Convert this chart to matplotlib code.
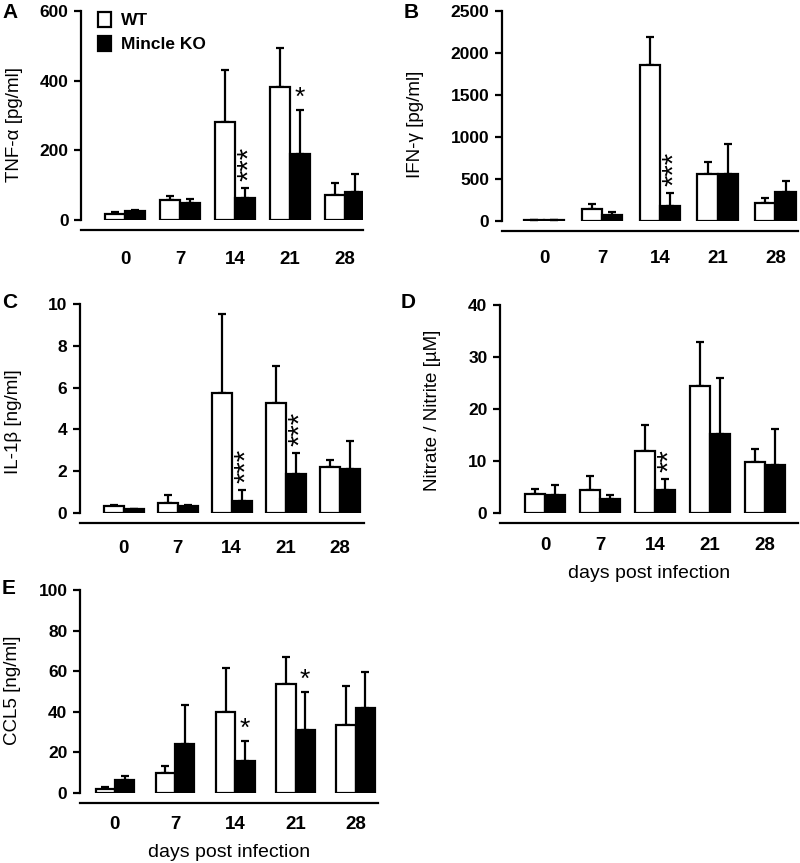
import matplotlib
matplotlib.use('Agg')
import matplotlib.pyplot as plt
from matplotlib.patches import Patch
import numpy as np

plt.rcParams['font.family'] = ['Liberation Sans', 'DejaVu Sans']

days = ['0', '7', '14', '21', '28']

# A - TNF-alpha [pg/ml]
tnf_wt = [18, 57, 282, 381, 72]
tnf_wt_err = [4, 13, 148, 114, 35]
tnf_ko = [26, 48, 62, 190, 79]
tnf_ko_err = [3, 12, 29, 126, 52]
tnf_stars = ['', '', '***', '*', '']

# B - IFN-gamma [pg/ml]
ifn_wt = [12, 140, 1857, 559, 220]
ifn_wt_err = [0, 60, 339, 144, 52]
ifn_ko = [12, 72, 176, 555, 340]
ifn_ko_err = [0, 32, 155, 356, 131]
ifn_stars = ['', '', '***', '', '']

# C - IL-1beta [ng/ml]
il1_wt = [0.32, 0.48, 5.75, 5.27, 2.2]
il1_wt_err = [0.08, 0.37, 3.75, 1.76, 0.32]
il1_ko = [0.18, 0.32, 0.58, 1.88, 2.12]
il1_ko_err = [0.03, 0.05, 0.54, 1.0, 1.31]
il1_stars = ['', '', '***', '***', '']

# D - Nitrate / Nitrite [uM]
no_wt = [3.7, 4.5, 11.9, 24.5, 9.8]
no_wt_err = [0.9, 2.6, 5.1, 8.4, 2.5]
no_ko = [3.5, 2.6, 4.5, 15.2, 9.2]
no_ko_err = [1.9, 0.8, 2.0, 10.7, 6.9]
no_stars = ['', '', '**', '', '']

# E - CCL5 [ng/ml]
ccl_wt = [1.8, 9.8, 39.7, 53.8, 33.3]
ccl_wt_err = [1.0, 3.3, 21.8, 13.4, 19.5]
ccl_ko = [6.6, 24.3, 15.6, 31.1, 42.0]
ccl_ko_err = [1.6, 19.1, 10.1, 18.9, 17.8]
ccl_stars = ['', '', '*', '*', '']

W, H = 800, 863
fig = plt.figure(figsize=(W / 100, H / 100), dpi=100)


def px_axes(left, right, zero, top):
    ax = fig.add_axes([left / W, (H - zero) / H, (right - left) / W, (zero - top) / H])
    ax.px_box = (left, right, zero, top)
    return ax


def panel(ax, wt, wt_err, ko, ko_err, stars, ymax, step, ylabel, xlim, w,
          letter, letter_xy, label_xy, xlabel=None, pad=14):
    # spine has to be moved before the ticks are styled (moving it resets the ticks)
    ax.spines['top'].set_visible(False)
    ax.spines['right'].set_visible(False)
    ax.spines['left'].set_linewidth(1.6)
    ax.spines['bottom'].set_linewidth(1.6)
    ax.spines['bottom'].set_position(('outward', 7))

    x = np.arange(len(days))
    lw = 1.6
    ax.bar(x - w / 2, wt, w, color='white', edgecolor='black', linewidth=lw, zorder=3)
    ax.bar(x + w / 2, ko, w, color='black', edgecolor='black', linewidth=lw, zorder=3)
    ax.errorbar(x - w / 2, wt, yerr=[np.zeros(len(wt)), wt_err], fmt='none',
                ecolor='black', elinewidth=lw, capsize=3, capthick=lw, zorder=2)
    ax.errorbar(x + w / 2, ko, yerr=[np.zeros(len(ko)), ko_err], fmt='none',
                ecolor='black', elinewidth=lw, capsize=3, capthick=lw, zorder=2)
    for i, s in enumerate(stars):
        if s:
            top = ko[i] + ko_err[i]
            if len(s) > 1:
                ax.annotate(s, (x[i] + w / 2, top), xytext=(3, 5), textcoords='offset points',
                            rotation=90, ha='center', va='bottom', fontsize=21)
            else:
                ax.annotate(s, (x[i] + w / 2, top), xytext=(0, 0), textcoords='offset points',
                            ha='center', va='bottom', fontsize=19)

    ax.set_xlim(*xlim)
    ax.set_ylim(0, ymax)
    yt = np.arange(0, ymax + step / 2, step)
    ax.set_yticks(yt, labels=['%g' % v for v in yt], fontweight='bold', fontsize=12.5)
    ax.set_xticks(x, labels=days, fontweight='bold', fontsize=13.5)
    ax.tick_params(axis='y', length=5, width=1.6, pad=4)
    ax.tick_params(axis='x', length=0, pad=pad)
    ax.set_ylabel(ylabel, fontsize=13.5)
    left, right, zero, top = ax.px_box
    ax.yaxis.set_label_coords((label_xy[0] - left) / (right - left),
                              (zero - label_xy[1]) / (zero - top))
    if xlabel:
        ax.set_xlabel(xlabel, fontsize=14, labelpad=8)
    fig.text(letter_xy[0] / W, 1 - letter_xy[1] / H, letter, fontsize=15,
             fontweight='bold', ha='left', va='center')


axA = px_axes(81, 363, 220, 11)
panel(axA, tnf_wt, tnf_wt_err, tnf_ko, tnf_ko_err, tnf_stars, 600, 200,
      'TNF-α [pg/ml]', (-0.8, 4.33), 0.36, 'A', (2, 12), (23, 124), pad=15)
axA.legend(handles=[Patch(facecolor='white', edgecolor='black', linewidth=1.6, label='WT'),
                    Patch(facecolor='black', edgecolor='black', linewidth=1.6, label='Mincle KO')],
           loc='upper left', bbox_to_anchor=(0.035, 1.03), frameon=False,
           handlelength=0.75, handleheight=0.95, handletextpad=0.6, labelspacing=0.45,
           borderaxespad=0, prop={'weight': 'bold', 'size': 12.5})

axB = px_axes(502, 798, 221, 11)
panel(axB, ifn_wt, ifn_wt_err, ifn_ko, ifn_ko_err, ifn_stars, 2500, 500,
      'IFN-γ [pg/ml]', (-0.73, 4.39), 0.35, 'B', (404, 12), (424, 124), pad=14)

axC = px_axes(80, 364, 513, 304)
panel(axC, il1_wt, il1_wt_err, il1_ko, il1_ko_err, il1_stars, 10, 2,
      'IL-1β [ng/ml]', (-0.81, 4.45), 0.37, 'C', (2, 302), (22, 422), pad=12.5)

axD = px_axes(500, 798, 513, 305)
panel(axD, no_wt, no_wt_err, no_ko, no_ko_err, no_stars, 40, 10,
      'Nitrate / Nitrite [µM]', (-0.82, 4.6), 0.36, 'D', (401, 302), (441, 410),
      xlabel='days post infection', pad=10.5)

axE = px_axes(80, 378, 793, 590)
panel(axE, ccl_wt, ccl_wt_err, ccl_ko, ccl_ko_err, ccl_stars, 100, 20,
      'CCL5 [ng/ml]', (-0.58, 4.37), 0.32, 'E', (2, 588), (21, 690),
      xlabel='days post infection', pad=9.5)

fig.savefig('out.png', dpi=100)
